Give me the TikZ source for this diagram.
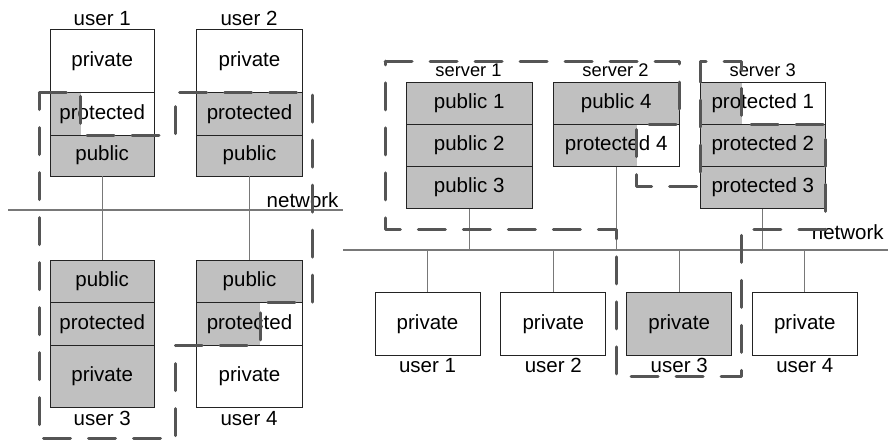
\documentclass[tikz,border=0pt]{standalone}
\usepackage{fontspec}
\setmainfont{Liberation Sans}
\definecolor{cellgray}{RGB}{192,192,192}
\definecolor{linkgray}{RGB}{120,120,120}
\definecolor{dashgray}{RGB}{85,85,85}
\definecolor{edgeblack}{RGB}{35,35,35}
\tikzset{
  cell/.style={draw=edgeblack, line width=0.9pt, inner sep=0pt,
    font=\fontsize{20.5}{24}\selectfont, text height=14.7pt, text depth=4.3pt},
  graycell/.style={cell, fill=cellgray},
  lbl/.style={inner sep=0pt, anchor=base, font=\fontsize{20.5}{24}\selectfont},
  srvlbl/.style={inner sep=0pt, anchor=base, font=\fontsize{18.3}{22}\selectfont},
  link/.style={draw=linkgray, line width=1pt},
  net/.style={draw=linkgray, line width=1.3pt},
  zone/.style={draw=dashgray, line width=3pt, dash pattern=on 27pt off 18pt, line cap=round, line join=round}
}
\begin{document}
\begin{tikzpicture}[x=1pt,y=-1pt]
\useasboundingbox (0,0) rectangle (888,440);
\fill[white] (0,0) rectangle (888,440);

% ---------- left diagram ----------
% partial gray fills
\fill[cellgray] (50,92.7) rectangle (80.7,135);
\fill[cellgray] (196.8,302.7) rectangle (260,345);

\node[cell, minimum width=104.5pt, minimum height=63.4pt] (u1priv) at (102.2,61) {private};
\node[cell, minimum width=104.5pt, minimum height=42.3pt] (u1prot) at (102.2,113.85) {protected};
\node[graycell, minimum width=104.5pt, minimum height=41pt] (u1pub) at (102.2,155.5) {public};

\node[cell, minimum width=105.5pt, minimum height=63.4pt] (u2priv) at (249.5,61) {private};
\node[graycell, minimum width=105.5pt, minimum height=42.3pt] (u2prot) at (249.5,113.85) {protected};
\node[graycell, minimum width=105.5pt, minimum height=41pt] (u2pub) at (249.5,155.5) {public};

\node[graycell, minimum width=104.5pt, minimum height=42pt] (u3pub) at (102.2,281.7) {public};
\node[graycell, minimum width=104.5pt, minimum height=42.3pt] (u3prot) at (102.2,323.85) {protected};
\node[graycell, minimum width=104.5pt, minimum height=62.7pt] (u3priv) at (102.2,376.35) {private};

\node[graycell, minimum width=105.5pt, minimum height=42pt] (u4pub) at (249.5,281.7) {public};
\node[cell, minimum width=105.5pt, minimum height=42.3pt] (u4prot) at (249.5,323.85) {protected};
\node[cell, minimum width=105.5pt, minimum height=62.7pt] (u4priv) at (249.5,376.35) {private};

\node[lbl] (lu1) at (102.2,25) {user 1};
\node[lbl] (lu2) at (249,25) {user 2};
\node[lbl] (lu3) at (102.2,425) {user 3};
\node[lbl] (lu4) at (249,425) {user 4};

\coordinate (netLa) at (8.3,210);
\coordinate (netLb) at (343.3,210);
\draw[net] (netLa) -- (netLb);
\node[lbl, anchor=base west] (netLlbl) at (266.5,207.5) {network};

\draw[link] (u1pub.south) -- (u1pub.south |- netLa);
\draw[link] (u2pub.south) -- (u2pub.south |- netLa);
\draw[link] (u3pub.north |- netLa) -- (u3pub.north);
\draw[link] (u4pub.north |- netLa) -- (u4pub.north);

% ---------- right diagram ----------
\fill[cellgray] (553.4,124) rectangle (636.7,166.7);
\fill[cellgray] (700,82) rectangle (741.7,124);

\node[graycell, minimum width=126.3pt, minimum height=42pt] (s1a) at (469.2,103) {public 1};
\node[graycell, minimum width=126.3pt, minimum height=42.7pt] (s1b) at (469.2,145.35) {public 2};
\node[graycell, minimum width=126.3pt, minimum height=41.6pt] (s1c) at (469.2,187.5) {public 3};

\node[graycell, minimum width=125.7pt, minimum height=42pt] (s2a) at (616.2,103) {public 4};
\node[cell, minimum width=125.7pt, minimum height=42.7pt] (s2b) at (616.2,145.35) {protected 4};

\node[cell, minimum width=125.7pt, minimum height=42pt] (s3a) at (762.85,103) {protected 1};
\node[graycell, minimum width=125.7pt, minimum height=42.7pt] (s3b) at (762.85,145.35) {protected 2};
\node[graycell, minimum width=125.7pt, minimum height=41.6pt] (s3c) at (762.85,187.5) {protected 3};

\node[srvlbl] (ls1) at (468.5,76.7) {server 1};
\node[srvlbl] (ls2) at (615.5,76.7) {server 2};
\node[srvlbl] (ls3) at (762.7,76.7) {server 3};

\node[cell, minimum width=105pt, minimum height=63.4pt] (r1) at (427.5,324) {private};
\node[cell, minimum width=105pt, minimum height=63.4pt] (r2) at (553.3,324) {private};
\node[graycell, minimum width=105pt, minimum height=63.4pt] (r3) at (679.2,324) {private};
\node[cell, minimum width=105pt, minimum height=63.4pt] (r4) at (804.8,324) {private};

\node[lbl] (lr1) at (427.5,372.7) {user 1};
\node[lbl] (lr2) at (553.3,372.7) {user 2};
\node[lbl] (lr3) at (679.2,372.7) {user 3};
\node[lbl] (lr4) at (804.8,372.7) {user 4};

\coordinate (netRa) at (343.3,250);
\coordinate (netRb) at (888,250);
\draw[net] (netRa) -- (netRb);
\node[lbl, anchor=base west] (netRlbl) at (811.7,239.3) {network};

\draw[link] (s1c.south) -- (s1c.south |- netRa);
\draw[link] (s2b.south) -- (s2b.south |- netRa);
\draw[link] (s3c.south) -- (s3c.south |- netRa);
\draw[link] (r1.north |- netRa) -- (r1.north);
\draw[link] (r2.north |- netRa) -- (r2.north);
\draw[link] (r3.north |- netRa) -- (r3.north);
\draw[link] (r4.north |- netRa) -- (r4.north);

% ---------- dashed zones ----------
\draw[zone] (39.3,92.7) -- (80.7,92.7) -- (80.7,135) -- (175.7,135) -- (175.7,92.7)
  -- (312.3,92.7) -- (312.3,302.7) -- (260,302.7) -- (260,345) -- (175.7,345)
  -- (175.7,438.3) -- (39.3,438.3) -- cycle;

\draw[zone] (385,61) -- (679,61) -- (679,124) -- (636.7,124) -- (636.7,186.7)
  -- (700,186.7) -- (700,61) -- (741.7,61) -- (741.7,124) -- (825.7,124)
  -- (825.7,229.5) -- (741.7,229.5) -- (741.7,376.7) -- (616,376.7)
  -- (616,229.5) -- (385,229.5) -- cycle;
\end{tikzpicture}
\end{document}
